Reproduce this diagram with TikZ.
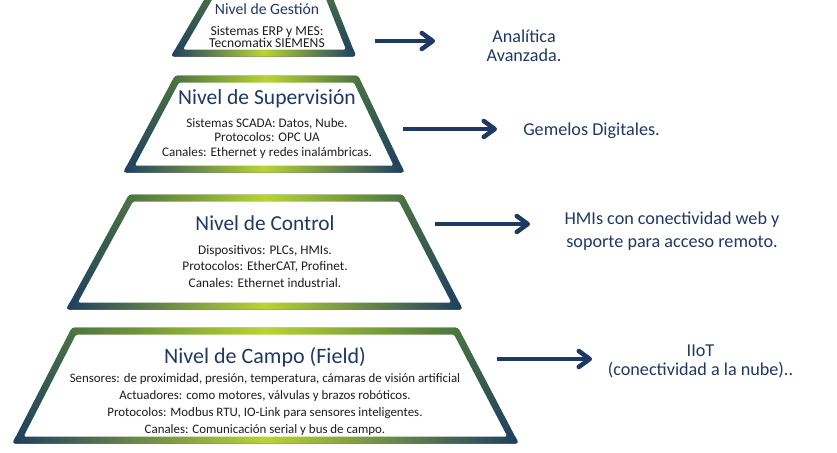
\documentclass[tikz,border=0pt]{standalone}
\usepackage{fontspec}
\setmainfont{Carlito}
\usetikzlibrary{arrows.meta}

\definecolor{pyrnavy}{RGB}{31, 56, 100}
\definecolor{pyrtext}{RGB}{30, 30, 30}
\definecolor{edgelime}{RGB}{184, 212, 50}
\definecolor{edgegreen}{RGB}{76, 116, 66}
\definecolor{edgenavy}{RGB}{30, 62, 96}

\newcommand{\levelfont}[2]{\fontsize{#1}{#2}\selectfont\lineskiplimit=-10pt\relax}

% half of the frame thickness (px)
\def\frameh{3.5}
% frame of one level: top y, bottom y, top left x, top right x, bottom left x, bottom right x
\newcommand{\levelframe}[6]{%
  \pgfmathsetmacro{\edgesl}{(#5-#3)/(#2-#1)}%
  \pgfmathsetmacro{\edgesr}{(#6-#4)/(#2-#1)}%
  \pgfmathsetmacro{\edgekl}{\frameh*sqrt(1+\edgesl*\edgesl)}%
  \pgfmathsetmacro{\edgekr}{\frameh*sqrt(1+\edgesr*\edgesr)}%
  % outer corners
  \pgfmathsetmacro{\otlx}{#3-(\edgesl)*\frameh-\edgekl}%
  \pgfmathsetmacro{\otrx}{#4-(\edgesr)*\frameh+\edgekr}%
  \pgfmathsetmacro{\obrx}{#6+(\edgesr)*\frameh+\edgekr}%
  \pgfmathsetmacro{\oblx}{#5+(\edgesl)*\frameh-\edgekl}%
  % inner corners
  \pgfmathsetmacro{\itlx}{#3+(\edgesl)*\frameh+\edgekl}%
  \pgfmathsetmacro{\itrx}{#4+(\edgesr)*\frameh-\edgekr}%
  \pgfmathsetmacro{\ibrx}{#6-(\edgesr)*\frameh-\edgekr}%
  \pgfmathsetmacro{\iblx}{#5-(\edgesl)*\frameh+\edgekl}%
  \begin{scope}
    \clip[rounded corners=0.9mm] (\otlx, {#1-\frameh}) -- (\otrx, {#1-\frameh})
      -- (\obrx, {#2+\frameh}) -- (\oblx, {#2+\frameh}) -- cycle;
    \shade[sideshade] (\oblx, {#1-\frameh}) rectangle (\obrx, {#2+\frameh});
    \shade[topshade] (\otlx, {#1-\frameh}) rectangle (\otrx, {#1+\frameh});
    \shade[bottomshade] (\oblx, {#2-\frameh}) rectangle (\obrx, {#2+\frameh});
  \end{scope}
  \fill[white, rounded corners=0.5mm] (\itlx, {#1+\frameh}) -- (\itrx, {#1+\frameh})
    -- (\ibrx, {#2-\frameh}) -- (\iblx, {#2-\frameh}) -- cycle;
}

\tikzset{
  sideshade/.style={top color=edgegreen, bottom color=edgenavy},
  topshade/.style={left color=edgegreen, right color=edgegreen, middle color=edgelime},
  bottomshade/.style={left color=edgenavy, right color=edgenavy, middle color=edgelime},
  levelbody/.style={align=center, inner sep=0pt, anchor=base, text=pyrtext},
  rightnote/.style={align=center, inner sep=0pt, anchor=base, text=pyrnavy, font=\levelfont{15.5}{15.4}},
  levelarrow/.style={draw=pyrnavy, line width=1.35mm, -{Straight Barb[length=3.3mm, width=4.8mm, round]}}
}

\begin{document}
\begin{tikzpicture}[x=0.3mm, y=-0.3mm]
  \useasboundingbox (0,0) rectangle (837,452);
  \clip (0,0) rectangle (837,452);

  % pyramid levels
  \levelframe{-8}{53}{212.7}{326.8}{177}{351}
  \levelframe{79}{169}{177}{356}{129}{399}
  \levelframe{198}{306}{131}{401}{72}{457}
  \levelframe{331}{440}{74}{456}{18}{513}

  % level texts (placed at the baseline of their last line)
  \node[levelbody, font=\levelfont{11.6}{9.8}] (gestion) at (267,47) {
    \textcolor{pyrnavy}{\fontsize{13.4}{14}\selectfont Nivel de Gestión}\\[8.1pt]
    Sistemas ERP y MES:\\
    Tecnomatix SIEMENS
  };
  \node[levelbody, font=\levelfont{11.2}{12.4}] (supervision) at (267,156.5) {
    \textcolor{pyrnavy}{\fontsize{18.4}{19}\selectfont Nivel de Supervisión}\\[6.8pt]
    Sistemas SCADA: Datos, Nube.\\
    Protocolos: OPC UA\\
    Canales: Ethernet y redes inalámbricas.
  };
  \node[levelbody, font=\levelfont{11.3}{13.7}] (control) at (265,287) {
    \textcolor{pyrnavy}{\fontsize{18.2}{19}\selectfont Nivel de Control}\\[6.8pt]
    Dispositivos: PLCs, HMIs.\\
    Protocolos: EtherCAT, Profinet.\\
    Canales: Ethernet industrial.
  };
  \node[levelbody, font=\levelfont{11}{14.5}] (campo) at (265,433) {
    \textcolor{pyrnavy}{\fontsize{18.8}{19}\selectfont Nivel de Campo (Field)}\\[1.7pt]
    Sensores: de proximidad, presión, temperatura, cámaras de visión artificial\\
    Actuadores: como motores, válvulas y brazos robóticos.\\
    Protocolos: Modbus RTU, IO-Link para sensores inteligentes.\\
    Canales: Comunicación serial y bus de campo.
  };

  % technologies on the right
  \node[rightnote] (analitica) at (524,61) {Analítica\\Avanzada.};
  \node[rightnote] (gemelos) at (591.5,135) {Gemelos Digitales.};
  \node[rightnote] (hmi) at (672,247) {HMIs con conectividad web y\\[3.4pt]soporte para acceso remoto.};
  \node[rightnote] (iiot) at (700.5,375) {IIoT\\[0.8pt](conectividad a la nube)..};

  % arrows
  \coordinate (gestion-from) at (375,41);
  \coordinate (gestion-to) at (435,41);
  \coordinate (supervision-from) at (403,129);
  \coordinate (supervision-to) at (497,129);
  \coordinate (control-from) at (435,224);
  \coordinate (control-to) at (530,224);
  \coordinate (campo-from) at (497,359);
  \coordinate (campo-to) at (592,359);
  \foreach \lvl in {gestion, supervision, control, campo}
    \draw[levelarrow] (\lvl-from) -- (\lvl-to);
\end{tikzpicture}
\end{document}
